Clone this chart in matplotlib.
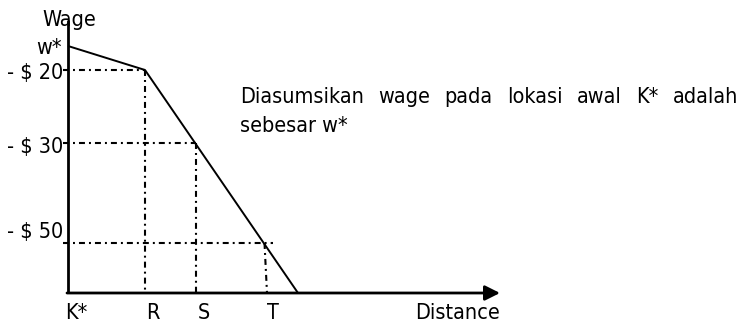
import numpy as np
import matplotlib
matplotlib.use("Agg")
import matplotlib.pyplot as plt

plt.rcParams["font.family"] = ["DejaVu Sans"]
plt.rcParams["font.stretch"] = "condensed"
plt.rcParams["lines.scale_dashes"] = False

# distance positions along the x axis (K*, R, S, T, where the curve hits zero)
dist_names = ["K*", "R", "S", "T"]
dist_pos = [0.0, 7.7, 12.8, 19.7]
curve_end = 23.0
axis_len = 43.2

# wage levels on the y axis
w_star = 24.7
level_names = ["- $ 20", "- $ 30", "- $ 50"]
level_vals = [22.3, 15.0, 5.0]
level_ends = [7.7, 12.8, 20.5]
axis_top = 27.3

# wage curve: flat-ish from K* to R, then steep down to zero
curve_x = [0.0, dist_pos[1], curve_end]
curve_y = [w_star, level_vals[0], 0.0]

W, H = 742, 322
fig = plt.figure(figsize=(W / 100, H / 100), dpi=100)
ax = fig.add_axes([0, 0, 1, 1])
ax.set_xlim(-6.8, -6.8 + W / 10)
ax.set_ylim(-2.9, -2.9 + H / 10)
ax.axis("off")

dashdot = (0, (4.3, 2.9, 1.4, 2.9))
fs = 15.5

# guide lines
for v, e in zip(level_vals, level_ends):
    ax.plot([-0.5, e], [v, v], color="black", lw=1.5, linestyle=dashdot)
ax.plot([dist_pos[1], dist_pos[1]], [level_vals[0], 0], color="black", lw=1.5, linestyle=dashdot)
ax.plot([dist_pos[2], dist_pos[2]], [level_vals[1], 0], color="black", lw=1.5, linestyle=dashdot)
ax.plot([dist_pos[3] - 0.05, dist_pos[3] + 0.2], [level_vals[2], 0], color="black", lw=1.5, linestyle=dashdot)

# wage curve
ax.plot(curve_x, curve_y, color="black", lw=1.4, solid_capstyle="butt")

# axes
ax.plot([0, 0], [0, axis_top], color="black", lw=2.0, solid_capstyle="butt")
ax.annotate("", xy=(axis_len, 0), xytext=(-0.1, 0),
            arrowprops=dict(arrowstyle="-|>,head_length=0.9,head_width=0.45",
                            color="black", lw=2.0, shrinkA=0, shrinkB=0))

# axis labels
ax.text(0.1, axis_top - 0.6, "Wage", fontsize=fs, ha="center", va="baseline")
ax.text(-0.6, w_star - 0.8, "w*", fontsize=fs, ha="right", va="baseline")
ax.text(axis_len, -2.6, "Distance", fontsize=fs, ha="right", va="baseline")

# y labels
lab_off = [-0.9, -1.0, 0.5]
for name, v, off in zip(level_names, level_vals, lab_off):
    ax.text(-0.5, v + off, name, fontsize=fs, ha="right", va="baseline")

# x labels
for name, x in zip(dist_names, dist_pos):
    ax.text(x + 0.8, -2.6, name, fontsize=fs, ha="center", va="baseline")

# justified note text
line1 = "Diasumsikan wage pada lokasi awal K* adalah".split()
line2 = "sebesar w*"
x0, x1 = 240, 738
base1, base2 = 103, 132
r = fig.canvas.get_renderer()
words = []
for w in line1:
    t = fig.text(0, 0, w, fontsize=fs, va="baseline")
    words.append(t)
widths = [t.get_window_extent(r).width for t in words]
gap = (x1 - x0 - sum(widths)) / (len(words) - 1)
xp = x0
for t, wd in zip(words, widths):
    t.set_position((xp / W, 1 - base1 / H))
    xp += wd + gap
fig.text(x0 / W, 1 - base2 / H, line2, fontsize=fs, va="baseline")

fig.savefig("out.png", dpi=100)
